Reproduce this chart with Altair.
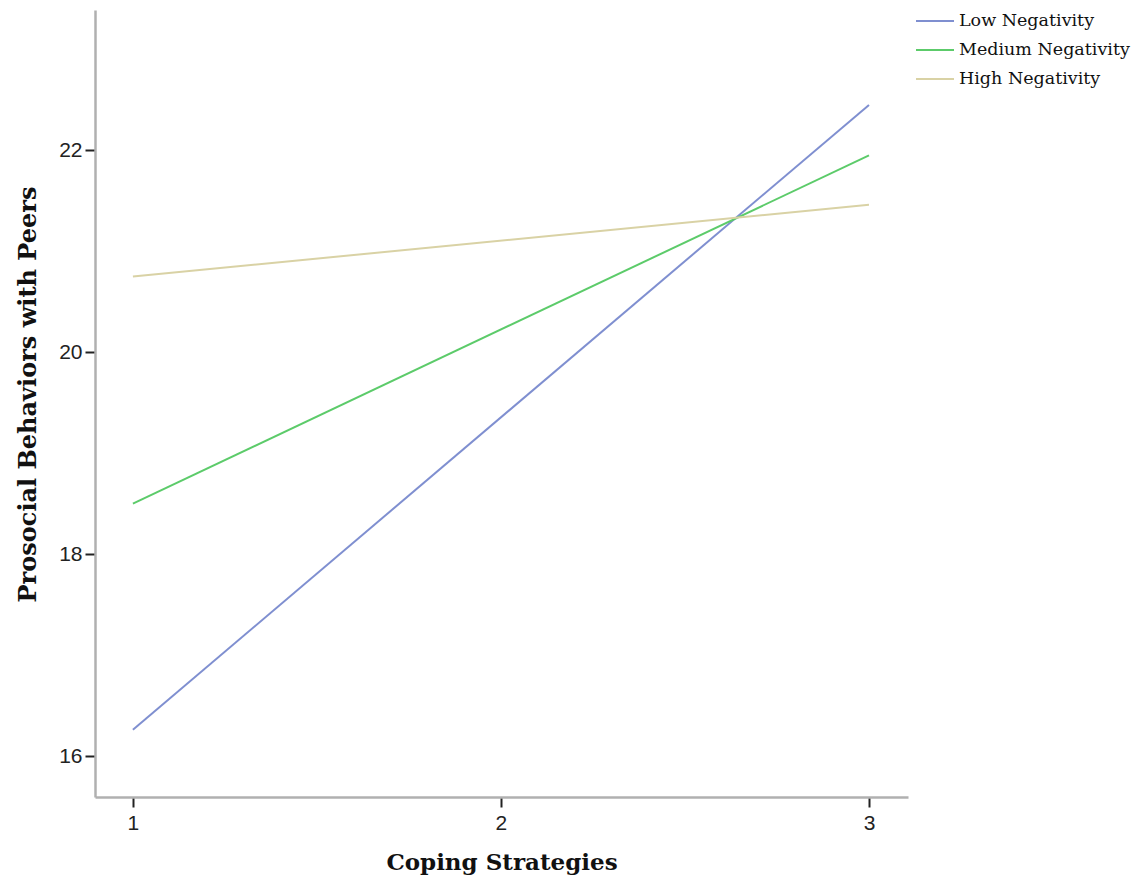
import altair as alt
import pandas as pd

coping = [1, 3]
series_names = ["Low Negativity", "Medium Negativity", "High Negativity"]
low_vals = [16.26, 22.45]
medium_vals = [18.50, 21.95]
high_vals = [20.75, 21.46]
colors = ["#7f8fd0", "#5ccb6a", "#d9d2a5"]

rows = []
for name, vals in zip(series_names, [low_vals, medium_vals, high_vals]):
    for x, y in zip(coping, vals):
        rows.append({"Coping": x, "Prosocial": y, "Group": name})
df = pd.DataFrame(rows)

chart = alt.Chart(df).mark_line(strokeWidth=2).encode(
    x=alt.X("Coping:Q",
            scale=alt.Scale(domain=[0.897, 3.106], nice=False, zero=False),
            axis=alt.Axis(title="Coping Strategies", values=[1, 2, 3], format="d",
                          grid=False, domainColor="#b0b0b0", domainWidth=2.5,
                          tickColor="#222222", tickWidth=2, tickSize=10,
                          labelFont="Liberation Sans", labelFontSize=21, labelColor="#222222",
                          labelPadding=5,
                          titleFont="DejaVu Serif", titleFontSize=23, titleFontWeight="bold",
                          titleColor="#111111", titlePadding=18)),
    y=alt.Y("Prosocial:Q",
            scale=alt.Scale(domain=[15.594, 23.39], nice=False, zero=False),
            axis=alt.Axis(title="Prosocial Behaviors with Peers", values=[16, 18, 20, 22], format="d",
                          grid=False, domainColor="#b0b0b0", domainWidth=2.5,
                          tickColor="#222222", tickWidth=2, tickSize=10,
                          labelFont="Liberation Sans", labelFontSize=21, labelColor="#222222",
                          labelPadding=3,
                          titleFont="DejaVu Serif", titleFontSize=24, titleFontWeight="bold",
                          titleColor="#111111", titlePadding=18, titleY=384)),
    color=alt.Color("Group:N",
                    scale=alt.Scale(domain=series_names, range=colors),
                    legend=alt.Legend(title=None, orient="none", legendX=820, legendY=-9,
                                      symbolType="stroke", symbolSize=1444, symbolStrokeWidth=2,
                                      labelFont="DejaVu Serif", labelFontSize=17.5, labelLimit=400,
                                      labelColor="#111111", rowPadding=-21.5, labelOffset=4)),
).properties(
    width=813, height=787,
    autosize=alt.AutoSizeParams(type="none"),
    padding={"left": 87, "top": 2, "right": 225, "bottom": 80},
).configure_view(stroke=None)

chart.save("out.html", embed_options={"renderer": "svg", "actions": False})
